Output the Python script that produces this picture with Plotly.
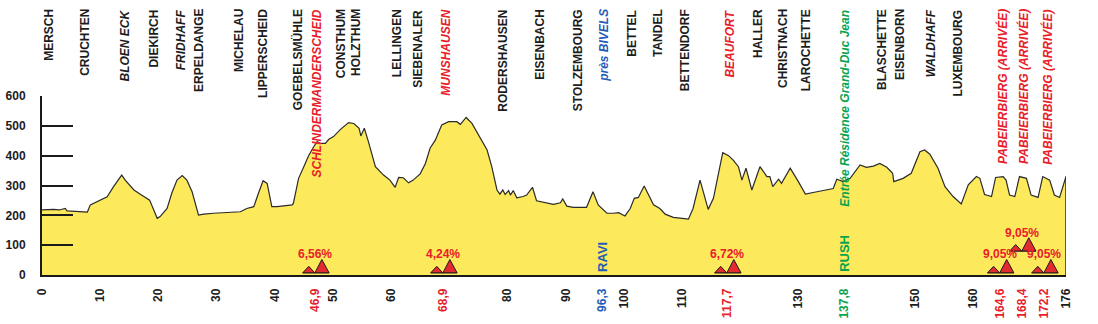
import numpy as np
import plotly.graph_objects as go

# ---- stage profile: distance (km) / altitude (m) ----
km = [0, 1, 2, 3, 4, 4.3, 5.5, 6.6, 7.8, 8.3, 9.5, 11.2, 12.3, 13.2, 13.7, 14.3, 15.8, 16.9,
      18.0, 18.5, 19.8, 20.3, 21.5, 22.3, 23.2, 24.1, 24.9, 25.8, 26.9, 27.8, 29.5, 31.8, 34.1,
      35.2, 36.4, 37.2, 38.0, 38.7, 39.5, 40.4, 41.5, 43.0, 43.2, 44.1, 45.0, 45.8, 46.7, 47.3,
      47.8, 48.7, 49.3, 50.1, 51.3, 52.7, 53.6, 54.5, 54.8, 55.4, 56.1, 57.3, 58.7, 59.8, 60.7,
      61.3, 62.1, 63.0, 63.8, 65.0, 65.9, 66.7, 67.6, 68.7, 69.9, 71.3, 71.9, 72.9, 73.9, 75.0,
      76.5, 77.3, 78.2, 78.7, 79.2, 79.6, 80.2, 80.5, 81.0, 81.6, 82.7, 83.3, 84.3, 85.0, 86.8,
      87.9, 89.1, 89.5, 90.2, 91.3, 93.6, 94.7, 95.6, 97.1, 98.2, 99.1, 100.2, 101.1, 101.8,
      102.5, 103.5, 105.1, 106.2, 107.1, 108.5, 111.1, 111.9, 113.1, 114.5, 115.4, 117.0, 118.0,
      118.8, 119.7, 120.3, 121.0, 122.0, 123.4, 124.6, 125.1, 125.6, 126.6, 127.1, 128.6, 130.0,
      131.2, 133.2, 136.0, 136.6, 137.7, 138.9, 140.6, 141.7, 142.9, 144.0, 145.2, 146.2, 146.4,
      148.0, 149.4, 150.9, 151.7, 152.6, 154.0, 155.2, 156.6, 158.0, 159.2, 160.6, 161.2, 162.0,
      163.2, 163.9, 165.2, 165.7, 166.3, 167.2, 168.0, 169.2, 170.0, 171.2, 172.0, 173.2, 174.0,
      174.9, 176.0]
altitude = [218, 219, 220, 218, 223, 215, 213, 212, 211, 235, 246, 262, 296, 321, 335, 318, 285,
            271, 257, 251, 190, 196, 223, 274, 318, 333, 318, 279, 201, 204, 207, 210, 212, 223,
            229, 274, 316, 307, 229, 229, 232, 235, 240, 324, 363, 399, 430, 447, 441, 441, 455,
            464, 488, 511, 508, 492, 466, 492, 447, 363, 335, 318, 294, 327, 326, 309, 318, 339,
            374, 425, 452, 503, 514, 514, 505, 528, 508, 469, 419, 363, 285, 271, 285, 270, 283,
            268, 283, 259, 263, 268, 294, 249, 240, 237, 242, 255, 231, 227, 227, 279, 235, 207,
            207, 209, 198, 223, 257, 260, 298, 235, 223, 204, 193, 187, 223, 318, 220, 257, 410,
            400, 385, 363, 318, 358, 285, 363, 330, 330, 296, 321, 307, 358, 313, 271, 279, 290,
            321, 313, 324, 369, 361, 365, 374, 361, 341, 313, 324, 341, 413, 419, 405, 358, 296,
            263, 238, 302, 330, 324, 270, 263, 327, 330, 318, 268, 263, 330, 324, 268, 260, 330,
            318, 268, 260, 330]

# ---- places along the route ----
town_names = ["MERSCH", "CRUCHTEN", "BLOEN ECK", "DIEKIRCH", "FRIDHAFF", "ERPELDANGE",
              "MICHELAU", "LIPPERSCHEID", "GOEBELSMÜHLE", "SCHLINDERMANDERSCHEID", "CONSTHUM",
              "HOLZTHUM", "LELLINGEN", "SIEBENALER", "MUNSHAUSEN", "RODERSHAUSEN", "EISENBACH",
              "STOLZEMBOURG", "près BIVELS", "BETTEL", "TANDEL", "BETTENDORF", "BEAUFORT",
              "HALLER", "CHRISTNACH", "LAROCHETTE", "Entrée Résidence Grand-Duc Jean",
              "BLASCHETTE", "EISENBORN", "WALDHAFF", "LUXEMBOURG",
              "PABEIERBIERG (ARRIVÉE)", "PABEIERBIERG (ARRIVÉE)", "PABEIERBIERG (ARRIVÉE)"]
town_km = [1.3, 7.4, 14.3, 19.3, 23.8, 27.0, 33.9, 38.0, 43.9, 47.3, 51.3, 54.0, 61.0, 64.7,
           69.5, 79.3, 85.6, 92.1, 96.6, 101.4, 106.0, 110.5, 118.3, 123.1, 127.4, 131.3, 138.0,
           144.4, 147.5, 152.8, 157.4, 165.2, 168.8, 172.9]
town_type = ["town", "town", "lieu", "town", "lieu", "town", "town", "town", "town", "climb",
             "town", "town", "town", "town", "climb", "town", "town", "town", "feed", "town",
             "town", "town", "climb", "town", "town", "town", "sprint", "town", "town", "lieu",
             "town", "climb", "climb", "climb"]

# ---- categorised climbs ----
climb_km = [46.9, 68.9, 117.7, 164.6, 168.4, 172.2]
climb_grade = ["6,56%", "4,24%", "6,72%", "9,05%", "9,05%", "9,05%"]

# ---- feed zone and intermediate sprint ----
feed_km, feed_label = 96.3, "RAVI"
sprint_km, sprint_label = 137.8, "RUSH"

# ---- distance axis labels ----
distance_marks = [0, 10, 20, 30, 40, 50, 60, 80, 90, 100, 110, 130, 150, 160, 176]

BLACK = "#1c1c1c"
RED = "#e8202a"
BLUE = "#1f5cb8"
GREEN = "#0aa34f"
YELLOW = "#fde95c"
FONT = "Liberation Sans, Arial, sans-serif"
type_style = {
    "town": (BLACK, "normal"),
    "lieu": (BLACK, "italic"),
    "climb": (RED, "italic"),
    "feed": (BLUE, "italic"),
    "sprint": (GREEN, "italic"),
}

fig = go.Figure()

# profile area
fig.add_trace(go.Scatter(x=km, y=altitude, mode="lines", fill="tozeroy",
                         fillcolor=YELLOW, line=dict(color="#2b2b2b", width=1.2),
                         hoverinfo="skip", showlegend=False))
# closing edge at the finish
fig.add_trace(go.Scatter(x=[km[-1], km[-1]], y=[0, altitude[-1]], mode="lines",
                         line=dict(color="#2b2b2b", width=1.5), hoverinfo="skip",
                         showlegend=False))

# climb symbols: a small and a tall triangle per climb
for i, (c, grade) in enumerate(zip(climb_km, climb_grade)):
    near_prev = i > 0 and c - climb_km[i - 1] < 5
    near_next = i < len(climb_km) - 1 and climb_km[i + 1] - c < 5
    base = 80 if (near_prev and near_next) else 7
    xs = [c - 2.1, c - 1.05, c, None, c, c + 1.2, c + 2.45]
    ys = [base, base + 22, base, None, base, base + 45, base]
    fig.add_trace(go.Scatter(x=xs, y=ys, mode="lines", fill="toself", fillcolor="#e32a2f",
                             line=dict(color="#1a1a1a", width=1), hoverinfo="skip",
                             showlegend=False))
    fig.add_trace(go.Scatter(x=[c - 2.1, c + 2.45], y=[base, base], mode="lines",
                             line=dict(color="#1a1a1a", width=1.2), hoverinfo="skip",
                             showlegend=False))
    fig.add_annotation(x=c + 0.1, y=base + 62, text=grade, showarrow=False,
                       font=dict(family=FONT, size=12, color=RED, weight="bold"),
                       xanchor="center", yanchor="middle", borderpad=0)

# kilometre dots under the baseline
km_dots = np.arange(0, 177)
dot_colors = [RED if (k % 10 == 0 and 0 < k < 176) else BLACK for k in km_dots]
fig.add_trace(go.Scatter(x=km_dots, y=np.full(len(km_dots), -15.0), mode="markers",
                         marker=dict(symbol="square", size=3.5, color=dot_colors,
                                     line=dict(width=0)),
                         cliponaxis=False, hoverinfo="skip", showlegend=False))

# place names along the top
for name, pos, kind in zip(town_names, town_km, town_type):
    color, style = type_style[kind]
    fig.add_annotation(x=pos, xref="x", y=1.49, yref="paper", text=name, textangle=-90,
                       showarrow=False, xanchor="center", yanchor="top", borderpad=0,
                       font=dict(family=FONT, size=12, color=color, weight="bold",
                                 style=style))

# feed zone / sprint markers
for pos, label, color in [(feed_km, feed_label, BLUE), (sprint_km, sprint_label, GREEN)]:
    fig.add_annotation(x=pos, y=8, text=label, textangle=-90, showarrow=False,
                       xanchor="center", yanchor="bottom", borderpad=0,
                       font=dict(family=FONT, size=13, color=color, weight="bold"))


def fmt(v):
    return (f"{v:.1f}" if v != int(v) else f"{int(v)}").replace(".", ",")


tickvals = list(distance_marks)
ticktext = [fmt(v) for v in distance_marks]
for v in climb_km:
    tickvals.append(v)
    ticktext.append(f"<span style='color:{RED}'>{fmt(v)}</span>")
tickvals.append(feed_km)
ticktext.append(f"<span style='color:{BLUE}'>{fmt(feed_km)}</span>")
tickvals.append(sprint_km)
ticktext.append(f"<span style='color:{GREEN}'>{fmt(sprint_km)}</span>")

fig.update_layout(
    width=1098, height=324,
    margin=dict(l=42, r=32, t=96, b=49, autoexpand=False),
    paper_bgcolor="white", plot_bgcolor="white",
    showlegend=False,
    xaxis=dict(range=[0, 176], showgrid=False, zeroline=False, showline=True,
               linecolor="#1a1a1a", linewidth=1.5, tickvals=tickvals, ticktext=ticktext,
               tickangle=-90, ticks="", ticklabelstandoff=7, automargin=False,
               tickfont=dict(family=FONT, size=12, color=BLACK, weight="bold")),
    yaxis=dict(range=[0, 600], showgrid=False, zeroline=False, showline=True,
               linecolor="#1a1a1a", linewidth=2, tickvals=[0, 100, 200, 300, 400, 500, 600],
               ticks="inside", ticklen=31, tickwidth=2, tickcolor="#1a1a1a",
               ticklabelstandoff=12, automargin=False,
               tickfont=dict(family=FONT, size=12, color=BLACK, weight="bold")),
)

fig.write_html("out.html")
